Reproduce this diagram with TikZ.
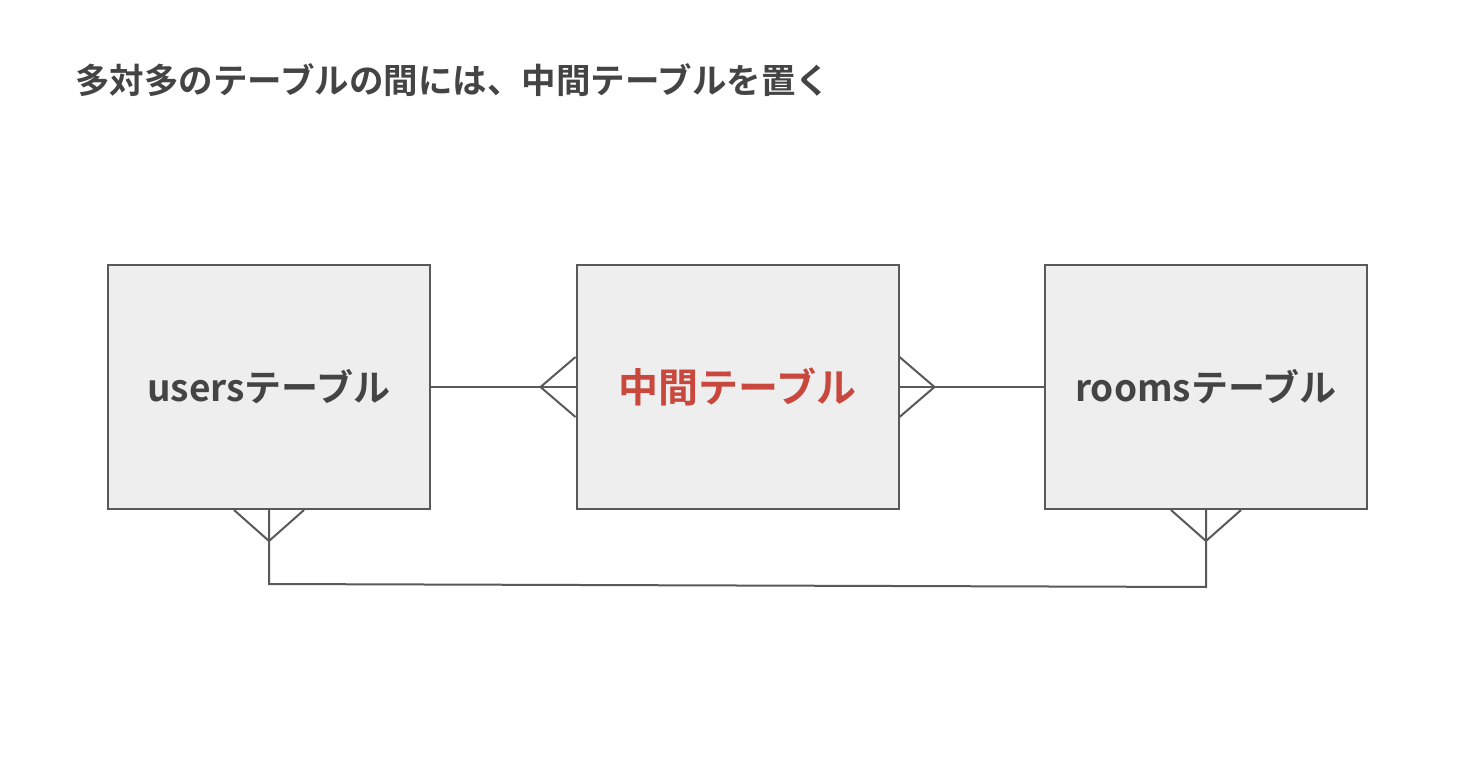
\documentclass[tikz,border=0pt]{standalone}
\usepackage{fontspec}
\setmainfont{Noto Sans CJK JP Bold}
\usetikzlibrary{positioning,calc}
\definecolor{linegray}{HTML}{595959}
\definecolor{boxfill}{HTML}{EEEEEE}
\definecolor{textgray}{HTML}{444444}
\definecolor{accentred}{HTML}{C9473D}
\tikzset{
  table/.style={draw=linegray,fill=boxfill,line width=2pt,
    minimum width=322pt,minimum height=244pt,inner sep=0pt,
    text=textgray,font=\fontsize{37}{44}\selectfont},
  linktable/.style={table,text=accentred,font=\fontsize{40}{46}\selectfont},
  rel/.style={draw=linegray,line width=2pt}
}
\begin{document}
\begin{tikzpicture}[x=1pt,y=-1pt]
        \useasboundingbox[fill=white] (0,0) rectangle (1478,770);
        %% Title
        \node[anchor=west,inner sep=0pt,text=textgray,
            font=\fontsize{34.5}{40}\selectfont] (title) at (75,80)
            {多対多のテーブルの間には、中間テーブルを置く};
        %% Tables
        \node[table] (users) at (269,387) {usersテーブル};
        \node[linktable,right=144.5pt of users] (middle) {中間テーブル};
        \node[table,right=144.5pt of middle] (rooms) {roomsテーブル};
        %% users -- middle
        \coordinate (ml) at ($(middle.west)+(-35,0)$);
        \draw[rel] (users.east) -- (middle.west);
        \draw[rel] ($(middle.west)+(0,-30)$) -- (ml) -- ($(middle.west)+(0,30)$);
        %% middle -- rooms
        \coordinate (mr) at ($(middle.east)+(35,0)$);
        \draw[rel] (middle.east) -- (rooms.west);
        \draw[rel] ($(middle.east)+(0,-30)$) -- (mr) -- ($(middle.east)+(0,30)$);
        %% users -- rooms
        \coordinate (uf) at ($(users.south)+(0,31)$);
        \coordinate (rf) at ($(rooms.south)+(0,31)$);
        \coordinate (ub) at ($(users.south)+(0,74)$);
        \coordinate (rb) at ($(rooms.south)+(0,77)$);
        \draw[rel] ($(users.south)+(-35,0)$) -- (uf) -- ($(users.south)+(35,0)$);
        \draw[rel] ($(rooms.south)+(-35,0)$) -- (rf) -- ($(rooms.south)+(35,0)$);
        \draw[rel] (users.south) -- (ub) -- (rb) -- (rooms.south);
    \end{tikzpicture}
\end{document}
